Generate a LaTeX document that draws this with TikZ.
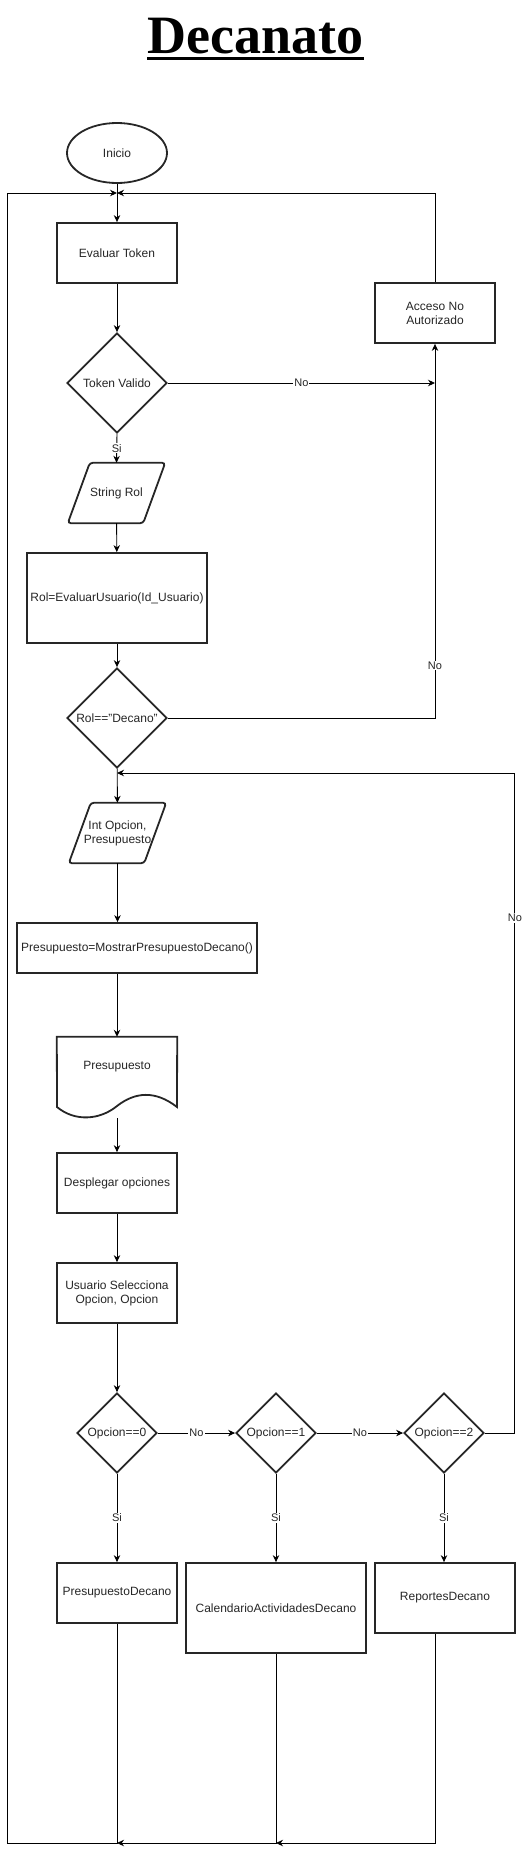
\documentclass[tikz,border=0pt]{standalone}
\usepackage{fontspec}
\setmainfont{Liberation Sans}
\newfontfamily\titlefont{Liberation Serif}
\usetikzlibrary{shapes.geometric,arrows.meta}
\begin{document}
\begin{tikzpicture}[x=1pt,y=-1pt,
  every node/.style={font=\fontsize{12}{14}\selectfont, text=black!85},
  proc/.style={draw=black!85, line width=1.8pt, minimum width=120, minimum height=60, align=center, inner sep=2},
  decision/.style={diamond, draw=black!85, line width=1.8pt, minimum width=100, minimum height=100, inner sep=0},
  io/.style={minimum width=97, minimum height=60, align=center, inner sep=0},
  outline/.style={draw=black!85, line width=1.8pt},
  flow/.style={line width=0.9pt, -{Stealth[length=7pt,width=6.5pt]}},
  lbl/.style={fill=white, inner sep=1pt, font=\fontsize{11}{13}\selectfont}]
\useasboundingbox (0,0) rectangle (526,1852);
\node[font=\titlefont\bfseries\fontsize{54}{60}\selectfont, text=black, inner sep=0, anchor=base] (titulo) at (255.5,53) {Decanato};
\draw[line width=2.7pt] ([yshift=-5.5pt]titulo.base west) -- ([yshift=-5.5pt]titulo.base east);

\node[ellipse, outline, minimum width=100, minimum height=60, inner sep=0] (inicio) at (117,153) {Inicio};
\node[proc] (evaltoken) at (117,253) {Evaluar Token};
\node[decision] (tokval) at (117,383) {Token Valido};
\node[proc] (acceso) at (435,313) {Acceso No\\Autorizado};
\node[io] (strrol) at (116.5,493) {String Rol};
\node[proc, minimum width=180, minimum height=90] (evalusr) at (117,598) {Rol=EvaluarUsuario(Id\_Usuario)};
\node[decision] (esdecano) at (117,718) {Rol=="Decano"};
\node[io] (intopc) at (117.5,833) {Int Opcion,\\Presupuesto};
\node[proc, minimum width=240, minimum height=50] (mostrar) at (137,948) {Presupuesto=MostrarPresupuestoDecano()};
\node[minimum width=120, minimum height=60] (presup) at (117,1067) {Presupuesto};
\node[proc] (desplegar) at (117,1183) {Desplegar opciones};
\node[proc] (selecciona) at (117,1293) {Usuario Selecciona\\Opcion, Opcion};
\foreach \n/\xx/\v in {op0/117/0,op1/276/1,op2/444/2}
  \node[decision, minimum width=80, minimum height=80] (\n) at (\xx,1433) {Opcion==\v};
\node[proc] (prdec) at (117,1593) {PresupuestoDecano};
\node[proc, minimum width=180, minimum height=90] (caldec) at (276,1608) {CalendarioActividadesDecano};
\node[proc, minimum width=140, minimum height=70] (repdec) at (445,1598) {ReportesDecano};

\foreach \n in {strrol,intopc}
  \draw[outline, rounded corners=3pt] ([xshift=22pt]\n.north west) -- (\n.north east) -- ([xshift=-22pt]\n.south east) -- (\n.south west) -- cycle;
\draw[outline] (presup.north west) -- (presup.north east) -- (177,1107) .. controls (155,1090) and (135,1092) .. (117,1106) .. controls (100,1120) and (75,1122) .. (57,1107) -- cycle;

\coordinate (topin) at (117,193);
\coordinate (noin) at (435,383);
\coordinate (loopin) at (117,773);
\coordinate (botA) at (117,1843);
\coordinate (botB) at (276,1843);

\draw[flow] (inicio) -- (evaltoken);
\draw[flow] (evaltoken) -- (tokval);
\draw[flow] (tokval) -- node[lbl]{No} (noin);
\draw[flow] (tokval.south) -- node[lbl]{Si} (strrol.north);
\draw[flow] (strrol) -- (evalusr);
\draw[flow] (evalusr) -- (esdecano);
\draw[flow] (esdecano) -| node[lbl, pos=0.57]{No} (acceso);
\draw[flow] (acceso) |- (topin);
\draw[flow] (esdecano) -- (intopc);
\draw[flow] (intopc) -- (intopc |- mostrar.north);
\draw[flow] (presup.north |- mostrar.south) -- (presup.north);
\draw[flow] ([yshift=-21pt]presup.south) -- (desplegar);
\draw[flow] (desplegar) -- (selecciona);
\draw[flow] (selecciona) -- (op0);
\draw[flow] (op0) -- node[lbl]{No} (op1);
\draw[flow] (op1) -- node[lbl]{No} (op2);
\foreach \d/\b in {op0/prdec,op1/caldec,op2/repdec}
  \draw[flow] (\d.south) -- node[lbl]{Si} (\d.south |- \b.north);
\draw[flow] (op2.east) -- ++(30,0) |- node[lbl, pos=0.39]{No} (loopin);
\draw[flow] (prdec) -- (botA) -- ++(-110,0) |- (topin);
\draw[flow] (caldec) -- (botB) -- (botA);
\draw[flow] ([xshift=-10pt]repdec.south) |- (botB);
\end{tikzpicture}
\end{document}
